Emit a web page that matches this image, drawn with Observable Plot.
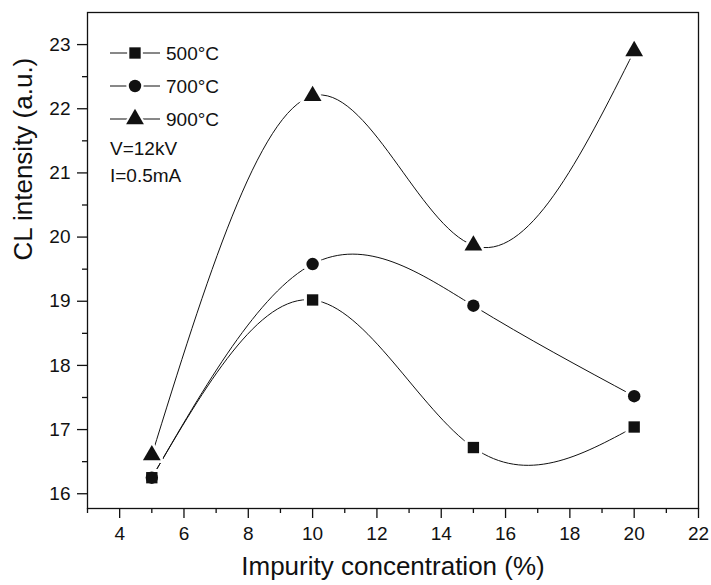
<!DOCTYPE html>
<html><head><meta charset="utf-8">
<script src="https://cdn.jsdelivr.net/npm/d3@7"></script>
<script src="https://cdn.jsdelivr.net/npm/@observablehq/plot@0.6"></script>
<style>body{margin:0;background:#fff}</style>
</head><body><div id="chart"></div>
<script>
const concentrations = [5, 10, 15, 20];
const series = ["500°C", "700°C", "900°C"];
const symbols = ["square", "circle", "triangle"];
const values500 = [16.25, 19.02, 16.72, 17.04];
const values700 = [16.25, 19.58, 18.93, 17.52];
const values900 = [16.6, 22.2, 19.87, 22.9];
const xMajorTicks = [4, 6, 8, 10, 12, 14, 16, 18, 20, 22];
const xMinorTicks = [3, 5, 7, 9, 11, 13, 15, 17, 19, 21];
const yMajorTicks = [16, 17, 18, 19, 20, 21, 22, 23];
const yMinorTicks = [16.5, 17.5, 18.5, 19.5, 20.5, 21.5, 22.5];
const notes = ["V=12kV", "I=0.5mA"];

const allValues = [values500, values700, values900];
const data = [];
series.forEach((s, i) => concentrations.forEach((c, j) => data.push({series: s, symbol: symbols[i], x: c, y: allValues[i][j]})));

const font = "Liberation Sans, Arial, Helvetica, sans-serif";
const sizeR = {square: 6.4, circle: 6.2, triangle: 6.6};
const drawOrder = ["circle", "triangle", "square"];

const chart = Plot.plot({
  width: 711, height: 585,
  marginLeft: 87, marginRight: 13, marginTop: 12, marginBottom: 77,
  style: {fontFamily: font, fontSize: "19px", color: "#111", background: "#fff"},
  x: {domain: [3, 22]},
  y: {domain: [15.77, 23.5]},
  marks: [
    Plot.frame({stroke: "#111", strokeWidth: 1.3}),
    Plot.axisX({ticks: xMajorTicks, tickSize: 10, tickPadding: 8, label: null, tickFormat: d => String(d), strokeWidth: 1.3}),
    Plot.axisX({ticks: xMinorTicks, tickSize: 5, text: null, label: null, strokeWidth: 1.3}),
    Plot.axisY({ticks: yMajorTicks, tickSize: 10, tickPadding: 7, label: null, tickFormat: d => String(d), strokeWidth: 1.3}),
    Plot.axisY({ticks: yMinorTicks, tickSize: 5, text: null, label: null, strokeWidth: 1.3}),
    Plot.line(data, {x: "x", y: "y", z: "series", curve: "natural", stroke: "#111", strokeWidth: 1}),
    ...drawOrder.map(sym => Plot.dot(data.filter(d => d.symbol === sym), {x: "x", y: "y", symbol: sym, r: sizeR[sym] + 3.5, fill: "white", stroke: "none"})),
    ...drawOrder.map(sym => Plot.dot(data.filter(d => d.symbol === sym), {x: "x", y: "y", symbol: sym, r: sizeR[sym], fill: "#111", stroke: "none"})),
    Plot.text(["Impurity concentration (%)"], {frameAnchor: "bottom", dy: 66, fontSize: 26, fill: "#111"}),
    Plot.text(["CL intensity (a.u.)"], {frameAnchor: "left", dx: -64, rotate: -90, fontSize: 26, fill: "#111"})
  ]
});
document.getElementById("chart").appendChild(chart);

// legend
const svg = d3.select(chart);
const lg = svg.append("g").attr("font-family", font).attr("fill", "#111").attr("text-anchor", "start");
const rows = [53, 86, 119];
const symFns = {square: d3.symbolSquare, circle: d3.symbolCircle, triangle: d3.symbolTriangle};
series.forEach((s, i) => {
  const sym = symbols[i];
  lg.append("line").attr("x1", 110).attr("x2", 160).attr("y1", rows[i]).attr("y2", rows[i]).attr("stroke", "#111").attr("stroke-width", 1);
  const area = Math.PI * sizeR[sym] ** 2;
  lg.append("path").attr("d", d3.symbol(symFns[sym], Math.PI * (sizeR[sym] + 2.5) ** 2)())
    .attr("transform", `translate(135,${rows[i]})`).attr("fill", "white");
  lg.append("path").attr("d", d3.symbol(symFns[sym], area)())
    .attr("transform", `translate(135,${rows[i]})`).attr("fill", "#111");
  lg.append("text").attr("x", 166).attr("y", rows[i]).attr("dy", "0.36em").attr("font-size", 19).text(s);
});
notes.forEach((n, i) => {
  lg.append("text").attr("x", 110).attr("y", [148, 175][i]).attr("dy", "0.36em").attr("font-size", 19).text(n);
});
</script></body></html>
